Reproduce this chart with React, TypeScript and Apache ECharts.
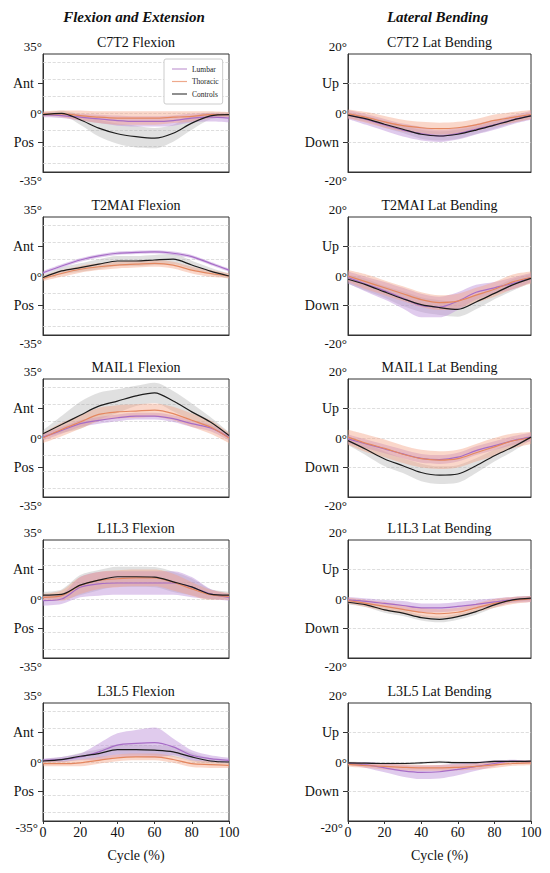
import React, { useEffect, useRef } from "react";
import * as echarts from "echarts";

// ---------- axes / labels ----------
const CYCLE = [0, 10, 20, 30, 40, 50, 60, 70, 80, 90, 100];
const GROUPS = ["Lumbar", "Thoracic", "Controls"];
const HEADERS = ["Flexion and Extension", "Lateral Bending"];
const FLEX_TITLES = ["C7T2 Flexion", "T2MAI Flexion", "MAIL1 Flexion", "L1L3 Flexion", "L3L5 Flexion"];
const LAT_TITLES = ["C7T2 Lat Bending", "T2MAI Lat Bending", "MAIL1 Lat Bending", "L1L3 Lat Bending", "L3L5 Lat Bending"];
const FLEX_TICKS = [-35, -17.5, 0, 17.5, 35];
const FLEX_LABELS = ["-35°", "Pos", "0°", "Ant", "35°"];
const LAT_TICKS = [-20, -10, 0, 10, 20];
const LAT_LABELS = ["-20°", "Down", "0°", "Up", "20°"];
const FLEX_GRIDLINES = [-30, -20, -10, 0, 10, 20, 30];
const LAT_GRIDLINES = [-10, 0, 10];
const X_NAME = "Cycle (%)";

// ---------- C7T2 ----------
const C7T2_FLEX_LUMBAR = [-1, -1.5, -2.5, -3.5, -4.5, -5, -5, -4.5, -3, -2.5, -3];
const C7T2_FLEX_LUMBAR_SD = [1.5, 1.5, 2, 2.5, 3, 3, 3, 3, 2.5, 2.5, 2.5];
const C7T2_FLEX_THORACIC = [-0.5, -0.5, -1.5, -2.5, -3, -3, -3, -2.5, -2, -1, -1];
const C7T2_FLEX_THORACIC_SD = [1.5, 2, 3, 3.5, 4, 4, 4, 3.5, 3, 2, 1.5];
const C7T2_FLEX_CONTROLS = [-1, -0.2, -4, -9, -12.3, -14, -14.9, -12, -6, -1.7, -1];
const C7T2_FLEX_CONTROLS_SD = [1, 1.5, 3, 5, 6, 6.5, 6, 5, 4, 2, 1.5];

const C7T2_LAT_LUMBAR = [-0.5, -2.2, -4, -5.8, -7, -7.8, -7, -5.5, -4, -2.3, -0.8];
const C7T2_LAT_LUMBAR_SD = [1.5, 1.8, 2, 2.2, 2.3, 2, 2, 1.8, 1.7, 1.5, 1.5];
const C7T2_LAT_THORACIC = [-0.3, -1.5, -3, -4.3, -5, -5.3, -5, -4, -2.5, -1.5, -0.5];
const C7T2_LAT_THORACIC_SD = [1.5, 1.8, 2, 2, 2, 2, 2, 2, 2, 1.8, 1.5];
const C7T2_LAT_CONTROLS = [-0.7, -2, -3.8, -5.5, -7.2, -7.8, -7.2, -5.8, -4.1, -2.4, -1];
const C7T2_LAT_CONTROLS_SD = [1, 1, 1.2, 1.3, 1.5, 1.5, 1.5, 1.3, 1.2, 1, 1];

// ---------- T2MAI ----------
const T2MAI_FLEX_LUMBAR = [1.9, 5.9, 9.5, 11.9, 13.5, 14, 14.3, 13.5, 11.5, 7.5, 3.5];
const T2MAI_FLEX_LUMBAR_SD = [1, 1, 1, 1, 1, 1, 1, 1, 1, 1, 1];
const T2MAI_FLEX_THORACIC = [-1.5, 1.5, 4, 5.5, 6.5, 7, 7.5, 6.5, 3.5, 1.5, 0];
const T2MAI_FLEX_THORACIC_SD = [1.5, 2, 2, 2, 2, 2, 2, 2, 2, 2, 1.5];
const T2MAI_FLEX_CONTROLS = [-0.9, 3, 5, 7, 8.9, 8.9, 9.5, 10, 6.5, 2.9, 0];
const T2MAI_FLEX_CONTROLS_SD = [1.5, 2, 2.5, 3, 3, 3, 3, 3, 2.5, 2, 1.5];

const T2MAI_LAT_LUMBAR = [-0.5, -2.8, -5, -7.5, -10, -10.5, -8.5, -5.5, -4, -2.5, -0.5];
const T2MAI_LAT_LUMBAR_SD = [2, 2.5, 3, 3.5, 4, 3.5, 3, 2.5, 2, 2, 1.5];
const T2MAI_LAT_THORACIC = [0, -2, -4, -6, -8, -9, -8.5, -6.5, -4.5, -2, -0.5];
const T2MAI_LAT_THORACIC_SD = [2, 2.5, 2.5, 2.5, 2.5, 2.5, 2.5, 2.5, 2.5, 2.5, 2];
const T2MAI_LAT_CONTROLS = [-1.1, -3, -5.4, -7.7, -9.7, -10.7, -11.3, -8.8, -5.9, -3, -0.8];
const T2MAI_LAT_CONTROLS_SD = [1.5, 2, 2, 2.5, 2.5, 2.5, 2.5, 2.5, 2, 2, 1.5];

// ---------- MAIL1 ----------
const MAIL1_FLEX_LUMBAR = [0.5, 4.5, 8.5, 10.5, 12, 13, 13, 11.5, 8.5, 6, 0.5];
const MAIL1_FLEX_LUMBAR_SD = [2, 2, 2, 2, 2, 2, 2, 2, 2, 2, 2];
const MAIL1_FLEX_THORACIC = [0, 5, 9.5, 14, 15.5, 16, 16.5, 14.5, 10.5, 6.5, 0];
const MAIL1_FLEX_THORACIC_SD = [3, 4, 4, 4, 4, 4, 4, 4, 4, 4, 3];
const MAIL1_FLEX_CONTROLS = [2.5, 8, 13.5, 18.9, 21.9, 25, 26.8, 21.9, 15.5, 9.5, 1.5];
const MAIL1_FLEX_CONTROLS_SD = [2, 5, 8, 8, 7, 6, 6, 6, 5, 3, 2];

const MAIL1_LAT_LUMBAR = [-0.3, -2, -3.7, -5.4, -6.9, -7.3, -6.5, -4.3, -2.6, -0.9, 0.3];
const MAIL1_LAT_LUMBAR_SD = [1.5, 1.5, 1.5, 1.5, 1.5, 1.5, 1.5, 1.5, 1.5, 1.5, 1.5];
const MAIL1_LAT_THORACIC = [0.3, -1.8, -3.5, -5.5, -7, -7.5, -7, -5, -3, -1, 0];
const MAIL1_LAT_THORACIC_SD = [2.5, 3, 3, 3, 3, 3, 3, 3, 3, 2.5, 2];
const MAIL1_LAT_CONTROLS = [-0.9, -3.9, -7.1, -9.4, -11.7, -12.6, -12.2, -9.4, -6, -3.1, 0.3];
const MAIL1_LAT_CONTROLS_SD = [1.5, 2, 2.5, 2.5, 3, 3, 3, 2.5, 2, 1.5, 1];

// ---------- L1L3 ----------
const L1L3_FLEX_LUMBAR = [-1, 0, 7, 9, 9.5, 9.5, 9.5, 9.5, 7, 3, 1];
const L1L3_FLEX_LUMBAR_SD = [3, 3, 6, 7, 7, 7, 7, 7, 6, 3, 2];
const L1L3_FLEX_THORACIC = [1, 2, 8, 11, 12, 12.5, 12.5, 10, 6, 2.5, 1.5];
const L1L3_FLEX_THORACIC_SD = [2, 3, 5, 5, 5, 5, 5, 5, 4, 3, 2];
const L1L3_FLEX_CONTROLS = [2.3, 2.7, 8.2, 11.2, 13.2, 13.2, 13, 10.2, 7.2, 2.9, 2.3];
const L1L3_FLEX_CONTROLS_SD = [2, 3, 6, 6, 6, 6, 6, 6, 5, 3, 2];

const L1L3_LAT_LUMBAR = [-0.3, -0.8, -1.5, -2.2, -3, -3, -2.5, -1.8, -1, -0.3, 0];
const L1L3_LAT_LUMBAR_SD = [1, 1, 1.2, 1.5, 1.5, 1.5, 1.5, 1.5, 1.2, 1, 1];
const L1L3_LAT_THORACIC = [-0.5, -1.5, -2.5, -3.5, -4.5, -5, -4.5, -3, -1.5, -0.5, 0];
const L1L3_LAT_THORACIC_SD = [1, 1.2, 1.5, 1.5, 1.5, 1.5, 1.5, 1.5, 1.5, 1.2, 1];
const L1L3_LAT_CONTROLS = [-1.1, -2, -3.7, -4.8, -6.3, -6.9, -6, -4.3, -2, -0.3, 0.3];
const L1L3_LAT_CONTROLS_SD = [0.8, 0.8, 1, 1, 1, 1, 1, 1, 1, 0.8, 0.8];

// ---------- L3L5 ----------
const L3L5_FLEX_LUMBAR = [1, 1.5, 3, 6, 10, 11, 11.5, 9, 4, 2, 1];
const L3L5_FLEX_LUMBAR_SD = [1, 1.5, 2, 5, 7, 8, 9, 5, 3, 2, 1.5];
const L3L5_FLEX_THORACIC = [-1, -1, -0.5, 1, 2.5, 3, 3, 1.5, -1, -1.5, -2];
const L3L5_FLEX_THORACIC_SD = [1.5, 1.5, 2, 2, 2, 2, 2, 2, 2, 2, 1.5];
const L3L5_FLEX_CONTROLS = [0.6, 1.4, 3.4, 5, 7.4, 7.4, 7, 6, 3, 0.6, 0];
const L3L5_FLEX_CONTROLS_SD = [1, 1.5, 2, 2.5, 3, 3, 3, 3, 2.5, 1.5, 1];

const L3L5_LAT_LUMBAR = [-0.5, -1, -2, -3, -3.5, -3.3, -2.5, -1.5, -0.5, 0.3, 0];
const L3L5_LAT_LUMBAR_SD = [0.5, 1, 1.5, 2, 2.3, 2.3, 2, 1.5, 1, 0.5, 0.5];
const L3L5_LAT_THORACIC = [-0.8, -1.2, -1.5, -1.8, -2, -2, -1.8, -1.5, -1, -0.5, -0.3];
const L3L5_LAT_THORACIC_SD = [0.8, 0.8, 1, 1, 1, 1, 1, 1, 1, 0.8, 0.8];
const L3L5_LAT_CONTROLS = [-0.3, -0.4, -0.5, -0.5, -0.3, 0, -0.2, -0.2, 0.2, 0.2, 0.3];
const L3L5_LAT_CONTROLS_SD = [0.4, 0.4, 0.4, 0.4, 0.4, 0.4, 0.4, 0.4, 0.4, 0.4, 0.4];

// ---------- assembled panels (references to the arrays above) ----------
const FLEX_MEANS = [
  [C7T2_FLEX_LUMBAR, C7T2_FLEX_THORACIC, C7T2_FLEX_CONTROLS],
  [T2MAI_FLEX_LUMBAR, T2MAI_FLEX_THORACIC, T2MAI_FLEX_CONTROLS],
  [MAIL1_FLEX_LUMBAR, MAIL1_FLEX_THORACIC, MAIL1_FLEX_CONTROLS],
  [L1L3_FLEX_LUMBAR, L1L3_FLEX_THORACIC, L1L3_FLEX_CONTROLS],
  [L3L5_FLEX_LUMBAR, L3L5_FLEX_THORACIC, L3L5_FLEX_CONTROLS],
];
const FLEX_SDS = [
  [C7T2_FLEX_LUMBAR_SD, C7T2_FLEX_THORACIC_SD, C7T2_FLEX_CONTROLS_SD],
  [T2MAI_FLEX_LUMBAR_SD, T2MAI_FLEX_THORACIC_SD, T2MAI_FLEX_CONTROLS_SD],
  [MAIL1_FLEX_LUMBAR_SD, MAIL1_FLEX_THORACIC_SD, MAIL1_FLEX_CONTROLS_SD],
  [L1L3_FLEX_LUMBAR_SD, L1L3_FLEX_THORACIC_SD, L1L3_FLEX_CONTROLS_SD],
  [L3L5_FLEX_LUMBAR_SD, L3L5_FLEX_THORACIC_SD, L3L5_FLEX_CONTROLS_SD],
];
const LAT_MEANS = [
  [C7T2_LAT_LUMBAR, C7T2_LAT_THORACIC, C7T2_LAT_CONTROLS],
  [T2MAI_LAT_LUMBAR, T2MAI_LAT_THORACIC, T2MAI_LAT_CONTROLS],
  [MAIL1_LAT_LUMBAR, MAIL1_LAT_THORACIC, MAIL1_LAT_CONTROLS],
  [L1L3_LAT_LUMBAR, L1L3_LAT_THORACIC, L1L3_LAT_CONTROLS],
  [L3L5_LAT_LUMBAR, L3L5_LAT_THORACIC, L3L5_LAT_CONTROLS],
];
const LAT_SDS = [
  [C7T2_LAT_LUMBAR_SD, C7T2_LAT_THORACIC_SD, C7T2_LAT_CONTROLS_SD],
  [T2MAI_LAT_LUMBAR_SD, T2MAI_LAT_THORACIC_SD, T2MAI_LAT_CONTROLS_SD],
  [MAIL1_LAT_LUMBAR_SD, MAIL1_LAT_THORACIC_SD, MAIL1_LAT_CONTROLS_SD],
  [L1L3_LAT_LUMBAR_SD, L1L3_LAT_THORACIC_SD, L1L3_LAT_CONTROLS_SD],
  [L3L5_LAT_LUMBAR_SD, L3L5_LAT_THORACIC_SD, L3L5_LAT_CONTROLS_SD],
];

// ---------- styling ----------
const FONT = '"Liberation Serif", "DejaVu Serif", serif';
const LINE_COLORS = ["#a66cc6", "#e4875f", "#1c1c1c"];
const LEGEND_COLORS = ["#c39bd3", "#eea98c", "#444444"];
const BAND_COLORS = ["rgba(186,140,216,0.45)", "rgba(242,160,128,0.42)", "rgba(165,165,165,0.35)"];
const ROW_TOPS = [54, 217, 379, 540, 703];
const ROW_H = 118;
const COL_LEFT = [43, 348];
const COL_W = [186, 183];

function buildOption() {
  const grids: any[] = [];
  const xAxes: any[] = [];
  const yAxes: any[] = [];
  const series: any[] = [];
  const graphics: any[] = [];

  HEADERS.forEach((h, c) => {
    graphics.push({
      type: "text",
      x: COL_LEFT[c] + COL_W[c] / 2 - 2,
      y: 17,
      style: {
        text: h,
        align: "center",
        verticalAlign: "middle",
        fontFamily: FONT,
        fontSize: 15,
        fontWeight: "bold",
        fontStyle: "italic",
        fill: "#111",
      },
    });
  });

  for (let c = 0; c < 2; c++) {
    for (let r = 0; r < 5; r++) {
      const gi = grids.length;
      const isFlex = c === 0;
      const ticks = isFlex ? FLEX_TICKS : LAT_TICKS;
      const labels = isFlex ? FLEX_LABELS : LAT_LABELS;
      const gridLines = isFlex ? FLEX_GRIDLINES : LAT_GRIDLINES;
      const means = isFlex ? FLEX_MEANS[r] : LAT_MEANS[r];
      const sds = isFlex ? FLEX_SDS[r] : LAT_SDS[r];
      const title = isFlex ? FLEX_TITLES[r] : LAT_TITLES[r];
      const bottom = r === 4;
      const maxV = ticks[ticks.length - 1];

      grids.push({
        left: COL_LEFT[c],
        top: ROW_TOPS[r],
        width: COL_W[c],
        height: ROW_H,
        show: true,
        borderColor: "#333",
        borderWidth: 1,
        backgroundColor: "transparent",
      });

      graphics.push({
        type: "text",
        x: COL_LEFT[c] + COL_W[c] / 2,
        y: ROW_TOPS[r] - 11.5,
        style: {
          text: title,
          align: "center",
          verticalAlign: "middle",
          fontFamily: FONT,
          fontSize: 14,
          fill: "#111",
        },
      });

      xAxes.push({
        type: "category",
        gridIndex: gi,
        data: CYCLE.map(String),
        boundaryGap: false,
        axisLine: { show: true, onZero: false, lineStyle: { color: "#333" } },
        axisTick: { show: bottom, interval: 1, length: 3, lineStyle: { color: "#333" } },
        axisLabel: {
          show: bottom,
          interval: 1,
          margin: 4,
          fontFamily: FONT,
          fontSize: 14,
          color: "#111",
        },
        splitLine: { show: false },
        name: bottom ? X_NAME : "",
        nameLocation: "middle",
        nameGap: 27,
        nameTextStyle: { fontFamily: FONT, fontSize: 14, color: "#111" },
      });

      yAxes.push({
        type: "value",
        gridIndex: gi,
        min: -maxV,
        max: maxV,
        interval: ticks[1] - ticks[0],
        axisLine: { show: true, lineStyle: { color: "#333" } },
        axisTick: {
          show: true,
          customValues: [ticks[1], ticks[3]],
          length: 5,
          lineStyle: { color: "#333" },
        },
        splitLine: { show: false },
        axisLabel: {
          margin: 1,
          color: "#111",
          fontFamily: FONT,
          fontSize: 14,
          formatter: (v: number) => {
            const i = ticks.findIndex((t) => Math.abs(t - v) < 1e-6);
            if (i < 0) return "";
            const t = labels[i];
            if (i === ticks.length - 1) return `{top|${t}}`;
            if (i === 0) return bottom ? `{botx|${t}}` : `{bot|${t}}`;
            if (i === 2) return `{zero|${t}}`;
            return `{tick|${t}}`;
          },
          rich: {
            top: { fontFamily: FONT, fontSize: 13, color: "#111", padding: [0, 0, 16, 0] },
            bot: { fontFamily: FONT, fontSize: 13, color: "#111", padding: [16, 0, 0, 0] },
            botx: { fontFamily: FONT, fontSize: 13, color: "#111", padding: [12, 4, 0, 0] },
            zero: { fontFamily: FONT, fontSize: 13, color: "#111" },
            tick: { fontFamily: FONT, fontSize: 14, color: "#111", padding: [0, 8, 0, 0] },
          },
        },
      });

      // bands: controls first (beneath), then lumbar, thoracic
      const bandOrder = [2, 0, 1];
      bandOrder.forEach((g, k) => {
        const stack = `band-${gi}-${g}`;
        const lower = means[g].map((m, i) => +(m - sds[g][i]).toFixed(3));
        const width = sds[g].map((s) => +(2 * s).toFixed(3));
        const lowerSeries: any = {
          type: "line",
          name: `${GROUPS[g]} lower`,
          xAxisIndex: gi,
          yAxisIndex: gi,
          data: lower,
          stack,
          stackStrategy: "all",
          symbol: "none",
          smooth: 0.3,
          silent: true,
          lineStyle: { opacity: 0, width: 0 },
          z: 2,
        };
        if (k === 0) {
          lowerSeries.markLine = {
            silent: true,
            symbol: "none",
            z: 1,
            label: { show: false },
            emphasis: { disabled: true },
            lineStyle: { color: "#d6d6d6", type: "dashed", width: 0.8 },
            data: gridLines.map((v) => ({ yAxis: v })),
          };
        }
        series.push(lowerSeries);
        series.push({
          type: "line",
          name: `${GROUPS[g]} band`,
          xAxisIndex: gi,
          yAxisIndex: gi,
          data: width,
          stack,
          stackStrategy: "all",
          symbol: "none",
          smooth: 0.3,
          silent: true,
          lineStyle: { opacity: 0, width: 0 },
          areaStyle: { color: BAND_COLORS[g], opacity: 1 },
          z: 2,
        });
      });

      // mean lines: lumbar, thoracic, controls on top
      [0, 1, 2].forEach((g) => {
        series.push({
          type: "line",
          name: GROUPS[g],
          xAxisIndex: gi,
          yAxisIndex: gi,
          data: means[g],
          symbol: "none",
          smooth: 0.3,
          silent: true,
          color: LINE_COLORS[g],
          lineStyle: { color: LINE_COLORS[g], width: 1.2 },
          z: 3,
        });
      });
    }
  }

  return {
    animation: false,
    backgroundColor: "#ffffff",
    grid: grids,
    xAxis: xAxes,
    yAxis: yAxes,
    series,
    graphic: graphics,
    legend: {
      data: GROUPS.map((name, g) => ({
        name,
        itemStyle: { color: LEGEND_COLORS[g] },
        textStyle: { color: "#222", fontFamily: FONT, fontSize: 7.5 },
      })),
      orient: "vertical",
      left: 164,
      top: 59,
      icon: "rect",
      itemWidth: 15,
      itemHeight: 1.2,
      itemGap: 4.5,
      padding: [6, 4, 6, 8],
      backgroundColor: "#ffffff",
      borderColor: "#cccccc",
      borderWidth: 1,
      borderRadius: 2,
      selectedMode: false,
      textStyle: { fontFamily: FONT, fontSize: 7.5, color: "#222" },
      z: 10,
    },
  };
}

export default function App() {
  const ref = useRef<HTMLDivElement>(null);
  useEffect(() => {
    if (!ref.current) return;
    const chart = echarts.init(ref.current, undefined, { renderer: "svg" });
    chart.setOption(buildOption() as any);
    return () => chart.dispose();
  }, []);
  return (
    <div
      ref={ref}
      style={{ position: "absolute", left: 0, top: 0, width: 550, height: 873, background: "#fff" }}
    />
  );
}
